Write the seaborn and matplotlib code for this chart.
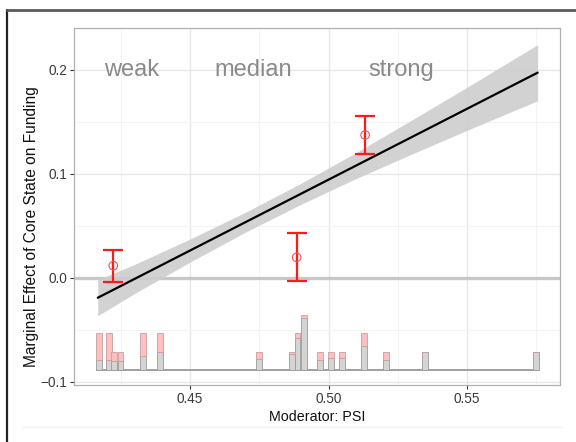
import matplotlib
matplotlib.use("Agg")
import matplotlib.pyplot as plt
from matplotlib.lines import Line2D
import seaborn as sns
import numpy as np
import pandas as pd

# ---- data ----
line_x = [0.4167, 0.5755]
line_est = [-0.0193, 0.1974]

band_x = [0.4167, 0.43, 0.45, 0.47, 0.49, 0.51, 0.53, 0.55, 0.5755]
band_lower = [-0.0366, -0.0152, 0.0150, 0.0438, 0.0706, 0.0955, 0.1189, 0.1419, 0.1704]
band_upper = [-0.0020, 0.0128, 0.0372, 0.0630, 0.0908, 0.1205, 0.1517, 0.1833, 0.2244]

bin_x = [0.4223, 0.4885, 0.5132]
bin_est = [0.0116, 0.0196, 0.1374]
bin_lower = [-0.0044, -0.0032, 0.1191]
bin_upper = [0.0267, 0.0428, 0.1557]

group_labels = ["weak", "median", "strong"]
group_label_x = [0.4289, 0.4729, 0.5264]
group_label_y = 0.2

hist_x = [0.4171, 0.4209, 0.4227, 0.4249, 0.4330, 0.4390, 0.4749, 0.4868, 0.4888,
          0.4910, 0.4969, 0.5009, 0.5049, 0.5128, 0.5208, 0.5348, 0.5749]
hist_control = [0.0096, 0.0096, 0.0090, 0.0090, 0.0138, 0.0176, 0.0103, 0.0151, 0.0305,
                0.0498, 0.0096, 0.0118, 0.0118, 0.0234, 0.0096, 0.0176, 0.0176]
hist_total = [0.0352, 0.0352, 0.0176, 0.0176, 0.0352, 0.0352, 0.0176, 0.0176, 0.0352,
              0.0528, 0.0176, 0.0176, 0.0176, 0.0352, 0.0176, 0.0176, 0.0176]
hist_base = -0.0889
hist_binwidth = 0.00215

x_ticks = [0.45, 0.50, 0.55]
x_tick_labels = ["0.45", "0.50", "0.55"]
y_ticks = [-0.1, 0.0, 0.1, 0.2]
y_tick_labels = ["\u22120.1", "0.0", "0.1", "0.2"]
x_label = "Moderator: PSI"
y_label = "Marginal Effect of Core State on Funding"

# ---- style ----
sns.set_theme(style="white")
plt.rcParams["font.family"] = ["Liberation Sans", "DejaVu Sans"]

fig = plt.figure(figsize=(5.76, 4.42), dpi=100)
W, H = 576, 442
ax = fig.add_axes([74 / W, 1 - 385 / H, (560 - 74) / W, (385 - 28) / H])
ax.set_xlim(0.40812, 0.58357)
ax.set_ylim(-0.1033, 0.2404)

# grid
ax.set_xticks(x_ticks)
ax.set_xticks([0.425, 0.475, 0.525, 0.575], minor=True)
ax.set_yticks(y_ticks)
ax.set_yticks([-0.05, 0.05, 0.15], minor=True)
ax.grid(which="major", color="#E6E6E6", lw=0.9)
ax.grid(which="minor", color="#F2F2F2", lw=0.6)
ax.set_axisbelow(True)

# zero line
ax.axhline(0, color="#BDBDBD", lw=2.4, alpha=0.8, zorder=1)

# confidence band + line
band_df = pd.DataFrame({"x": band_x, "lo": band_lower, "hi": band_upper})
ax.fill_between(band_df["x"], band_df["lo"], band_df["hi"], color="#CDCDCD", lw=0, zorder=2, alpha=0.9)
line_df = pd.DataFrame({"x": line_x, "y": line_est})
sns.lineplot(data=line_df, x="x", y="y", ax=ax, color="black", lw=1.6, zorder=3)

# histogram
hx = np.array(hist_x)
hc = np.array(hist_control)
ht = np.array(hist_total)
ax.plot([min(hx) - hist_binwidth / 2, max(hx) + hist_binwidth / 2], [hist_base, hist_base],
        color="#A0A0A0", lw=1.4, zorder=2, solid_capstyle="butt")
ax.bar(hx, hc, width=hist_binwidth, bottom=hist_base, color="#D4D4D4",
       edgecolor="#9A9A9A", lw=0.6, zorder=3)
ax.bar(hx, ht - hc, width=hist_binwidth, bottom=hist_base + hc, color="#FFBFBF",
       edgecolor="#C8A0A0", lw=0.6, zorder=3)

# binned estimates
ax.errorbar(bin_x, bin_est,
            yerr=[np.array(bin_est) - np.array(bin_lower), np.array(bin_upper) - np.array(bin_est)],
            fmt="none", ecolor="#FF1A1A", elinewidth=1.6, capsize=7.5, capthick=1.6, zorder=5)
pts = pd.DataFrame({"x": bin_x, "y": bin_est})
sns.scatterplot(data=pts, x="x", y="y", ax=ax, marker="o", s=38, facecolor="none",
                edgecolor="#FF4D4D", linewidth=0.8, zorder=6)

# group labels
for lab, gx in zip(group_labels, group_label_x):
    ax.text(gx, group_label_y, lab, ha="center", va="center", fontsize=17, color="#8A8A8A", zorder=7)

# axes styling
for s in ax.spines.values():
    s.set_color("#B0B0B0")
    s.set_linewidth(0.9)
ax.set_xticklabels(x_tick_labels)
ax.set_yticklabels(y_tick_labels)
ax.tick_params(axis="both", which="major", length=3, width=0.8, color="#333333",
               labelsize=9.8, labelcolor="#3A3A3A", pad=2, bottom=True, left=True)
ax.tick_params(axis="both", which="minor", length=0)
ax.set_xlabel(x_label, fontsize=10.3, color="#111111", labelpad=3)
ax.set_ylabel(y_label, fontsize=11.2, color="#111111")
ax.yaxis.set_label_coords((39 - 74) / (560 - 74), 1 - (227 - 28) / (385 - 28))

# outer frame pieces
fig.add_artist(Line2D([7 / W, 7 / W], [0, 1 - 10 / H], transform=fig.transFigure, color="#222222", lw=1.6))
fig.add_artist(Line2D([7 / W, 1], [1 - 10 / H, 1 - 10 / H], transform=fig.transFigure, color="#5A5A5A", lw=2.0))
fig.add_artist(Line2D([22 / W, 562 / W], [1 - 427 / H, 1 - 427 / H], transform=fig.transFigure, color="#F2F2F2", lw=0.8))

fig.savefig("out.png", dpi=100)
